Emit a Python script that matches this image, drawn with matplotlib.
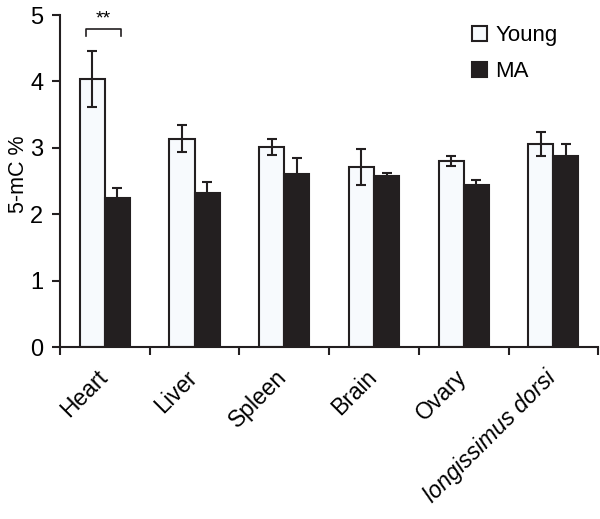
import matplotlib
matplotlib.use("Agg")
import matplotlib.pyplot as plt
import matplotlib.transforms as mtransforms
import numpy as np

matplotlib.rcParams.update({
	"font.family": "Liberation Sans",
	"font.size": 16,
})

tissues = ["Heart", "Liver", "Spleen", "Brain", "Ovary", "longissimus dorsi"]
young = [4.04, 3.14, 3.01, 2.71, 2.80, 3.06]
young_err = [0.42, 0.20, 0.12, 0.27, 0.08, 0.18]
ma = [2.25, 2.32, 2.61, 2.58, 2.44, 2.87]
ma_err = [0.15, 0.16, 0.24, 0.04, 0.08, 0.19]

ink = "#231f20"

fig = plt.figure(figsize=(6.0, 5.19), dpi=100)
ax = fig.add_axes([0.1, 0.3314, 0.897, 0.6396])

x = np.arange(len(tissues))
w = 0.28
ekw = dict(ecolor=ink, elinewidth=1.5, capsize=3.3, capthick=1.5)

ax.bar(x - w / 2, young, w, color="#f7fafd", edgecolor=ink, linewidth=1.5,
	yerr=young_err, error_kw=ekw, label="Young", zorder=2)
ax.bar(x + w / 2, ma, w, color=ink, edgecolor=ink, linewidth=1.5,
	yerr=ma_err, error_kw=ekw, label="MA", zorder=2)

# ** bracket over heart
bx0, bx1, by = -0.21, 0.18, 4.79
ax.plot([bx0, bx0, bx1, bx1], [by - 0.11, by, by, by - 0.11], color=ink, lw=1.2, clip_on=False)
ax.text((bx0 + bx1) / 2, by + 0.02, "**", ha="center", va="bottom", fontsize=14)

ax.set_xlim(-0.5, len(tissues) - 0.5)
ax.set_ylim(0, 5)
ax.set_yticks([0, 1, 2, 3, 4, 5])
ax.set_xticks(np.arange(len(tissues) + 1) - 0.5)
ax.set_xticklabels([])
ax.set_xticks(x, minor=True)
ax.set_xticklabels(tissues, minor=True, rotation=45, ha="right", va="top",
	rotation_mode="anchor", fontsize=16.5)
ax.tick_params(axis="x", which="minor", length=0, pad=15)
ax.tick_params(axis="x", which="major", length=6, width=1.5, direction="out", color=ink)
ax.tick_params(axis="y", length=6, width=1.5, direction="out", color=ink, labelsize=17, pad=6)
shift = mtransforms.ScaledTranslation(-9 / 100, 2 / 100, fig.dpi_scale_trans)
for lab in ax.get_xticklabels(minor=True):
	lab.set_transform(lab.get_transform() + shift)
	if lab.get_text() == "longissimus dorsi":
		lab.set_style("italic")

for s in ["top", "right"]:
	ax.spines[s].set_visible(False)
for s in ["left", "bottom"]:
	ax.spines[s].set_linewidth(1.5)
	ax.spines[s].set_color(ink)

ax.set_ylabel("5-mC %", fontsize=15.5)
ax.yaxis.set_label_coords(-0.058, 0.521)

ax.legend(loc="upper left", bbox_to_anchor=(0.787, 0.952), bbox_transform=fig.transFigure,
	frameon=False, fontsize=16, borderpad=0, borderaxespad=0,
	handlelength=0.65, handleheight=0.65, handletextpad=0.4, labelspacing=0.7)

plt.savefig("out.png", dpi=100)
plt.close()
